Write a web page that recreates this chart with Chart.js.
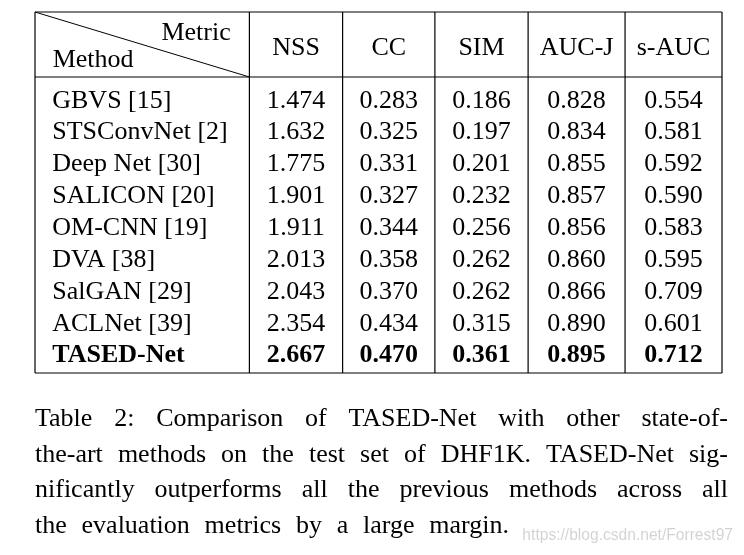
<!DOCTYPE html>
<html>
<head>
<meta charset="utf-8">
<script src="https://cdn.jsdelivr.net/npm/chart.js@4.4.0/dist/chart.umd.min.js"></script>
<style>body{margin:0;background:#fff}</style>
</head>
<body>
<canvas id="tableChart" width="744" height="555"></canvas>
<script>
const metrics = ["NSS", "CC", "SIM", "AUC-J", "s-AUC"];
const methods = ["GBVS [15]", "STSConvNet [2]", "Deep Net [30]", "SALICON [20]", "OM-CNN [19]",
  "DVA [38]", "SalGAN [29]", "ACLNet [39]", "TASED-Net"];
const nss  = [1.474, 1.632, 1.775, 1.901, 1.911, 2.013, 2.043, 2.354, 2.667];
const cc   = [0.283, 0.325, 0.331, 0.327, 0.344, 0.358, 0.370, 0.434, 0.470];
const sim  = [0.186, 0.197, 0.201, 0.232, 0.256, 0.262, 0.262, 0.315, 0.361];
const aucJ = [0.828, 0.834, 0.855, 0.857, 0.856, 0.860, 0.866, 0.890, 0.895];
const sAuc = [0.554, 0.581, 0.592, 0.590, 0.583, 0.595, 0.709, 0.601, 0.712];
const boldRow = "TASED-Net";
const caption = [
  "Table 2: Comparison of TASED-Net with other state-of-",
  "the-art methods on the test set of DHF1K. TASED-Net sig-",
  "nificantly outperforms all the previous methods across all",
  "the evaluation metrics by a large margin."
];
const watermark = "https://blog.csdn.net/Forrest97";

// layout (column widths in x units, rule positions in row units)
const colWidths = [2.3, 1, 0.99, 1, 1.04, 1.04];
const colEdges = colWidths.reduce((a, w) => { a.push(a[a.length - 1] + w); return a; }, [0]);
const ruleTop = -1.73, ruleHead = 0.31, ruleBottom = 9.6;
const FONT = "26px 'Liberation Serif'";
const BOLD = "bold 26px 'Liberation Serif'";

const columns = [nss, cc, sim, aucJ, sAuc];
const cells = [];
columns.forEach((vals, c) => {
  vals.forEach((v, r) => {
    cells.push({ x: (colEdges[c + 1] + colEdges[c + 2]) / 2, y: r + 1, text: v.toFixed(3), bold: methods[r] === boldRow, align: "center" });
  });
});
methods.forEach((m, r) => {
  cells.push({ x: 0.185, y: r + 1, text: m, bold: m === boldRow, align: "left" });
});
metrics.forEach((m, c) => {
  cells.push({ x: (colEdges[c + 1] + colEdges[c + 2]) / 2, y: -0.66, text: m, bold: false, align: "center" });
});
cells.push({ x: colEdges[1] - 0.2, y: -1.12, text: "Metric", bold: false, align: "right" });
cells.push({ x: 0.19, y: -0.27, text: "Method", bold: false, align: "left" });

const tablePlugin = {
  id: "tablePlugin",
  afterDatasetsDraw(chart) {
    const ctx = chart.ctx;
    const xs = chart.scales.x, ys = chart.scales.y;
    const area = chart.chartArea;
    ctx.save();
    ctx.strokeStyle = "#000";
    ctx.lineWidth = 1.2;
    // horizontal rules
    [ruleTop, ruleHead, ruleBottom].forEach(v => {
      const y = ys.getPixelForValue(v);
      ctx.beginPath(); ctx.moveTo(xs.getPixelForValue(0), y); ctx.lineTo(xs.getPixelForValue(colEdges[6]), y); ctx.stroke();
    });
    // vertical rules
    colEdges.forEach(e => {
      const x = xs.getPixelForValue(e);
      ctx.beginPath(); ctx.moveTo(x, ys.getPixelForValue(ruleTop)); ctx.lineTo(x, ys.getPixelForValue(ruleBottom)); ctx.stroke();
    });
    // diagonal in header corner
    ctx.lineWidth = 1;
    ctx.beginPath();
    ctx.moveTo(xs.getPixelForValue(0), ys.getPixelForValue(ruleTop));
    ctx.lineTo(xs.getPixelForValue(colEdges[1]), ys.getPixelForValue(ruleHead));
    ctx.stroke();

    // cell text at the dataset points
    const meta = chart.getDatasetMeta(0);
    ctx.fillStyle = "#000";
    ctx.textBaseline = "alphabetic";
    meta.data.forEach((pt, i) => {
      const d = chart.data.datasets[0].data[i];
      ctx.font = d.bold ? BOLD : FONT;
      ctx.textAlign = d.align;
      ctx.fillText(d.text, pt.x, pt.y + 8.6);
    });

    // caption, justified (last line is loosely set)
    ctx.font = FONT;
    ctx.textAlign = "left";
    const left = area.left;
    caption.forEach((line, i) => {
      const y = area.bottom + 53 + i * 35.7;
      const right = i === caption.length - 1 ? 509 : 728;
      const words = line.split(" ");
      const total = words.reduce((s, w) => s + ctx.measureText(w).width, 0);
      const gap = (right - left - total) / (words.length - 1);
      let x = left;
      words.forEach(w => { ctx.fillText(w, x, y); x += ctx.measureText(w).width + gap; });
    });

    // watermark
    ctx.font = "15.6px 'Liberation Sans'";
    ctx.fillStyle = "rgba(0,0,0,0.18)";
    ctx.textAlign = "right";
    ctx.fillText(watermark, 733, 540);
    ctx.restore();
  }
};

new Chart(document.getElementById("tableChart"), {
  type: "scatter",
  data: {
    datasets: [{
      label: "cells",
      data: cells,
      pointRadius: 0,
      pointHoverRadius: 0
    }]
  },
  options: {
    responsive: false,
    animation: false,
    devicePixelRatio: 1,
    layout: { padding: { left: 35, right: 22, top: 12, bottom: 182 } },
    scales: {
      x: { type: "linear", display: false, min: 0, max: colEdges[6] },
      y: { type: "linear", display: false, reverse: true, min: ruleTop, max: ruleBottom }
    },
    plugins: { legend: { display: false }, tooltip: { enabled: false } }
  },
  plugins: [tablePlugin]
});
</script>
</body>
</html>
